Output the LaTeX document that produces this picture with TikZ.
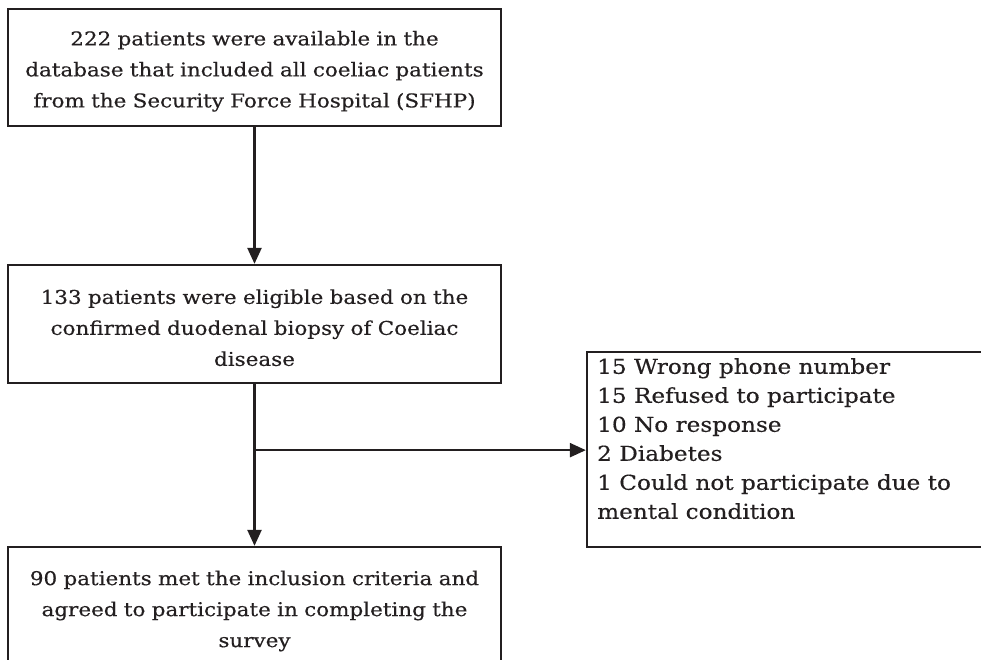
\documentclass[tikz,border=0pt]{standalone}
\usepackage{fontspec}
\setmainfont{DejaVu Serif}
\newfontfamily\widefont[FakeStretch=1.13,FakeBold=0.4]{DejaVu Serif}
\usetikzlibrary{arrows.meta}
\definecolor{ink}{HTML}{231F20}
\newcommand{\firstlinestrut}{\rule{0pt}{22pt}}
\begin{document}
\begin{tikzpicture}[x=1pt,y=-1pt,
  box/.style={draw=ink, line width=2.3pt, minimum width=493pt, align=center,
    text width=485pt, inner sep=0pt, text=ink, font=\widefont\fontsize{19}{31}\selectfont},
  arr/.style={draw=ink, line width=2.3pt, -{Triangle[length=16pt,width=14pt]}}]
\useasboundingbox (0,0) rectangle (981,660);
\clip (0,0) rectangle (981,660);
\node[box, minimum height=117pt] (n1) at (254.5,67.5)
  {\firstlinestrut 222 patients were available in the\\database that included all coeliac patients\\from the Security Force Hospital (SFHP)};
\node[box, minimum height=118pt] (n2) at (254.5,324)
  {\firstlinestrut 133 patients were eligible based on the\\confirmed duodenal biopsy of Coeliac\\disease};
\node[box, minimum height=128pt] (n3) at (254.5,611)
  {90 patients met the inclusion criteria and\\agreed to participate in completing the\\survey};
\node[draw=ink, line width=2.3pt, minimum width=413pt, minimum height=195pt, inner sep=0pt] (r) at (793.5,449.5) {};
\node[anchor=north west, align=left, inner sep=0pt, text=ink, font=\widefont\fontsize{20.5}{29}\selectfont] (rt) at (597,358)
  {15 Wrong phone number\\15 Refused to participate\\10 No response\\2 Diabetes\\1 Could not participate due to\\mental condition};
\draw[arr] (n1.south) -- (n2.north);
\draw[arr] (n2.south) -- (n3.north);
\path (n2.south) ++(0,66) coordinate (br);
\draw[arr] (br) -- (br -| r.west);
\end{tikzpicture}
\end{document}
